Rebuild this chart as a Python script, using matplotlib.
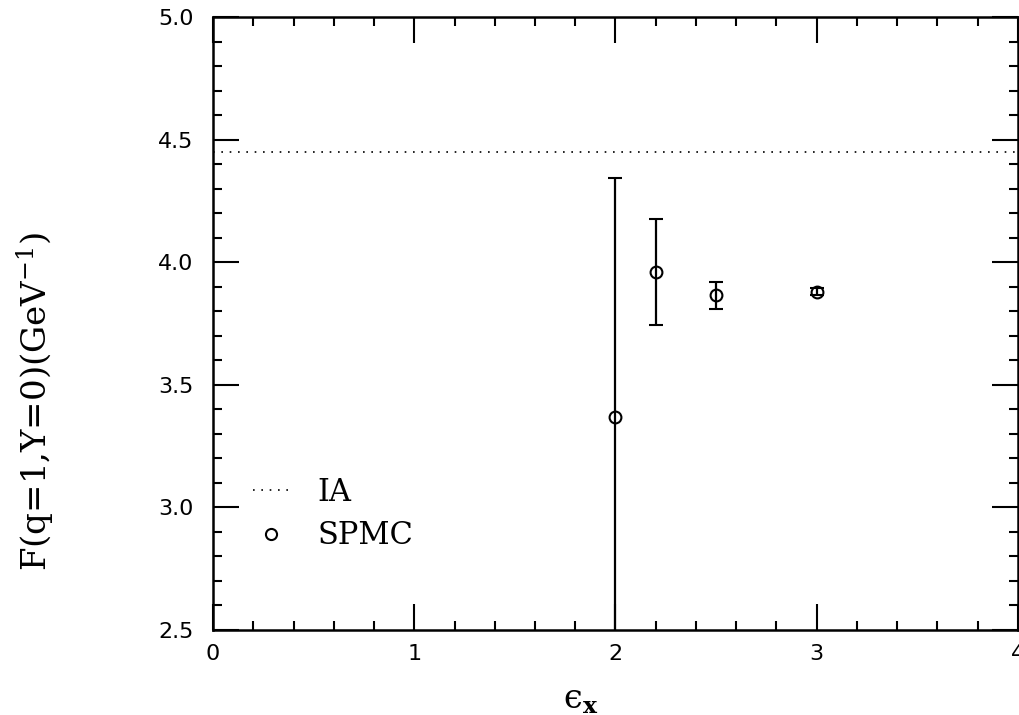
import matplotlib
matplotlib.use("Agg")
import matplotlib.pyplot as plt
from matplotlib.ticker import MultipleLocator
from matplotlib.lines import Line2D

# Data
eps_x = [2.0, 2.2, 2.5, 3.0]
F_spmc = [3.37, 3.96, 3.865, 3.88]
F_err = [0.975, 0.215, 0.056, 0.015]
IA_value = 4.45

plt.rcParams["mathtext.fontset"] = "dejavuserif"

fig = plt.figure(figsize=(10.2, 7.15), dpi=100)
ax = fig.add_axes([213/1020, 85/715, 805/1020, 613/715])

ax.axhline(IA_value, color="black", lw=1.2, linestyle=(0, (1, 4)))
ax.errorbar(eps_x, F_spmc, yerr=F_err, fmt="o", mfc="none", mec="black",
            ms=8.5, mew=1.5, ecolor="black", elinewidth=1.6, capsize=5,
            capthick=1.6, color="black")

ax.set_xlim(0, 4)
ax.set_ylim(2.5, 5.0)
ax.xaxis.set_major_locator(MultipleLocator(1))
ax.xaxis.set_minor_locator(MultipleLocator(0.2))
ax.yaxis.set_major_locator(MultipleLocator(0.5))
ax.yaxis.set_minor_locator(MultipleLocator(0.1))
ax.yaxis.set_major_formatter(plt.FormatStrFormatter("%.1f"))

ax.tick_params(which="both", direction="in", top=True, right=True, width=1.5)
ax.tick_params(which="major", length=19)
ax.tick_params(which="minor", length=6.5)
ax.tick_params(axis="x", pad=10)
ax.tick_params(axis="y", pad=14)
for lab in ax.get_xticklabels() + ax.get_yticklabels():
    lab.set_fontfamily("DejaVu Sans")
    lab.set_fontsize(16)
for s in ax.spines.values():
    s.set_linewidth(1.8)

fig.text(36/1020, 1 - 401/715, r"F(q=1,Y=0)(GeV$^{-1}$)",
         family="DejaVu Serif", fontsize=24.5, rotation=90,
         ha="center", va="center")
fig.text(581/1020, 1 - 700/715, "\u03f5$_{\\mathbf{x}}$", fontsize=24,
         family="DejaVu Serif", ha="center", va="center")

handles = [Line2D([], [], color="black", lw=1.2, linestyle=(0, (1, 4))),
           Line2D([], [], color="black", marker="o", mfc="none", ms=8, mew=1.5,
                  linestyle="none")]
ax.legend(handles, ["IA", "SPMC"], loc="upper left",
          bbox_to_anchor=((253 - 213) / 805, (630 - 477) / 613),
          frameon=False, borderpad=0, borderaxespad=0,
          prop={"family": "DejaVu Serif", "size": 22},
          handlelength=1.15, handletextpad=0.95, labelspacing=0.4)

fig.savefig("out.png", dpi=100)
